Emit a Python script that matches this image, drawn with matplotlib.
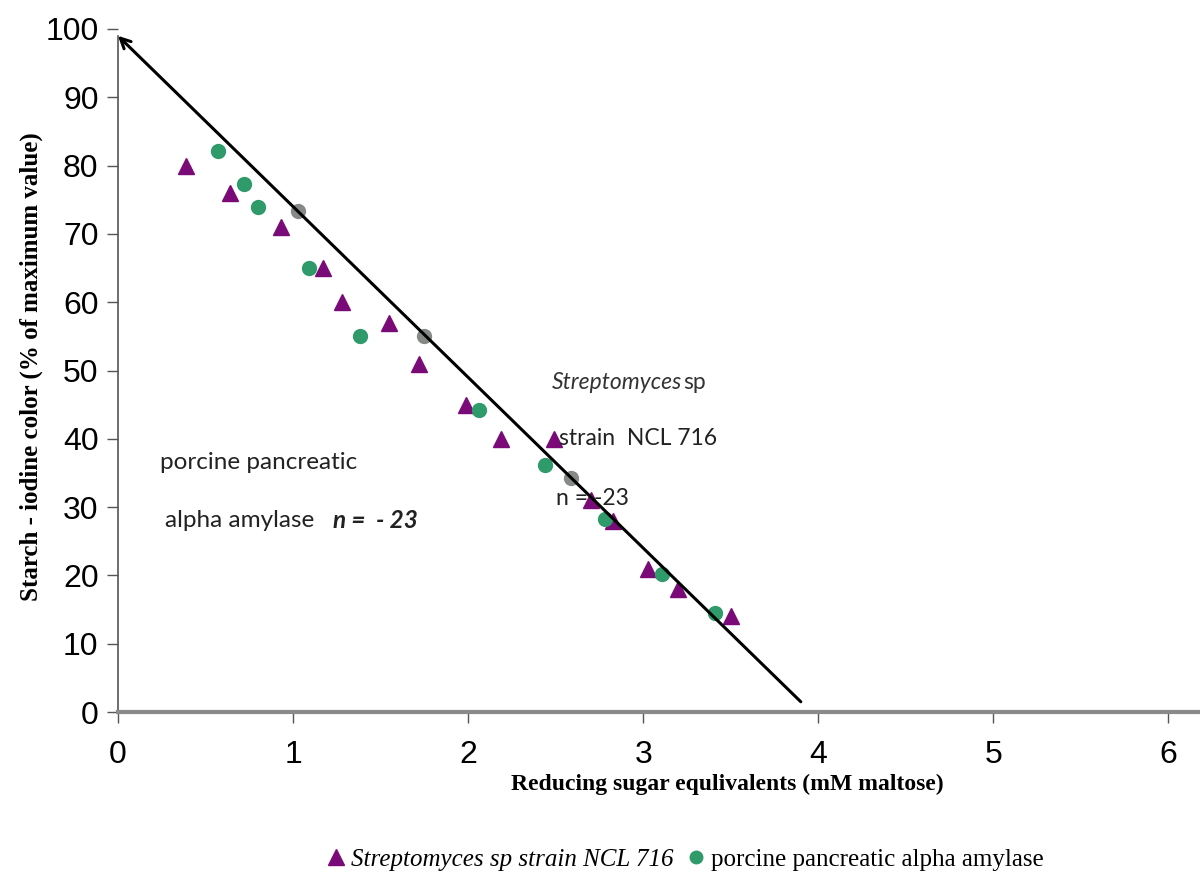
import matplotlib
matplotlib.use('Agg')
import matplotlib.pyplot as plt
from matplotlib.lines import Line2D

# Streptomyces sp strain NCL 716 (triangles)
strep_x = [0.39, 0.64, 0.93, 1.17, 1.28, 1.55, 1.72, 1.99, 2.19, 2.49, 2.70, 2.83, 3.03, 3.20, 3.50]
strep_y = [80, 76, 71, 65, 60, 57, 51, 45, 40, 40, 31, 28, 21, 18, 14]

# porcine pancreatic alpha amylase (circles)
ppa_x = [0.57, 0.72, 0.80, 1.09, 1.38, 2.06, 2.44, 2.78, 3.11, 3.41]
ppa_y = [82.1, 77.3, 74.0, 65.0, 55.0, 44.2, 36.2, 28.3, 20.2, 14.5]

# overlapping points lying on the regression line
over_x = [1.03, 1.75, 2.59]
over_y = [73.4, 55.0, 34.3]

# regression line end points
line_x = [3.9, 0.0]
line_y = [1.5, 99.0]

yticks = list(range(0, 101, 10))
xticks = list(range(0, 7))

purple = '#7A0A78'
green = '#2F9A6A'
gray = '#858A87'

fig = plt.figure(figsize=(12, 8.81), dpi=100)
ax = fig.add_axes([0.0983, 0.1918, 0.9017, 0.7753])

ax.plot(strep_x, strep_y, linestyle='none', marker='^', ms=12, color=purple, zorder=3)
ax.plot(ppa_x, ppa_y, linestyle='none', marker='o', ms=10, color=green, zorder=3)
ax.plot(over_x, over_y, linestyle='none', marker='o', ms=10, color=gray, zorder=3)

ax.annotate('', xy=(line_x[1], line_y[1]), xytext=(line_x[0], line_y[0]),
            arrowprops=dict(arrowstyle='->', color='black', lw=2.2,
                            mutation_scale=18, shrinkA=0, shrinkB=0),
            zorder=4)

ax.set_xlim(0, 6.18)
ax.set_ylim(0, 100)
ax.set_xticks(xticks)
ax.set_yticks(yticks)

tick_font = ['Liberation Sans Narrow', 'Liberation Sans']
ax.set_xticklabels([str(t) for t in xticks], family=tick_font, fontsize=23)
ax.set_yticklabels([str(t) for t in yticks], family=tick_font, fontsize=23)
ax.tick_params(axis='x', direction='out', length=8, width=1, color='#555555', pad=12)
ax.tick_params(axis='y', direction='out', length=8, width=1, color='#555555', pad=6)

for s in ['top', 'right']:
    ax.spines[s].set_visible(False)
ax.spines['left'].set_color('#555555')
ax.spines['left'].set_linewidth(1.2)
ax.spines['left'].set_bounds(0, 99)
ax.spines['bottom'].set_color('#8a8a8a')
ax.spines['bottom'].set_linewidth(3)

ax.set_ylabel('Starch - iodine color (% of maximum value)', family='Liberation Serif',
              fontweight='bold', fontsize=18)
ax.yaxis.set_label_coords(-0.069, 0.505)
ax.set_xlabel('Reducing sugar equlivalents (mM maltose)', family='Liberation Serif',
              fontweight='bold', fontsize=17)
ax.xaxis.set_label_coords(0.563, -0.09)

# in-plot annotations
txt_font = ['Lato', 'DejaVu Sans']
ax.text(2.48, 48.2, 'Streptomyces', family=txt_font, style='italic', fontsize=16.5,
        color='#333333', va='center')
ax.text(3.23, 48.2, 'sp', family=txt_font, fontsize=16.5, color='#333333', va='center')
ax.text(2.52, 40.0, 'strain  NCL 716', family=txt_font, fontsize=16.5, color='#222222', va='center')
ax.text(2.5, 31.2, 'n = -23', family=txt_font, fontsize=16.5, color='#222222', va='center')
ax.text(0.24, 36.6, 'porcine pancreatic', family=txt_font, fontsize=17.5, color='#222222', va='center')
ax.text(0.27, 28.1, 'alpha amylase', family=txt_font, fontsize=17.5, color='#222222', va='center')
ax.text(1.23, 28.1, 'n =  - 23', family=txt_font, fontsize=17.5, color='#222222',
        va='center', style='italic', fontweight='bold')

handles = [
    Line2D([], [], linestyle='none', marker='^', ms=12, color=purple),
    Line2D([], [], linestyle='none', marker='o', ms=9, color=green),
]
leg = fig.legend(handles, ['Streptomyces sp strain NCL 716', 'porcine pancreatic alpha amylase'],
                 loc='center', bbox_to_anchor=(0.572, 0.024), ncol=2, frameon=False,
                 prop={'family': 'Liberation Serif', 'size': 18},
                 handlelength=0.6, handletextpad=0.3, columnspacing=0.6)
leg.get_texts()[0].set_fontstyle('italic')

fig.savefig('out.png', dpi=100, facecolor='white')
